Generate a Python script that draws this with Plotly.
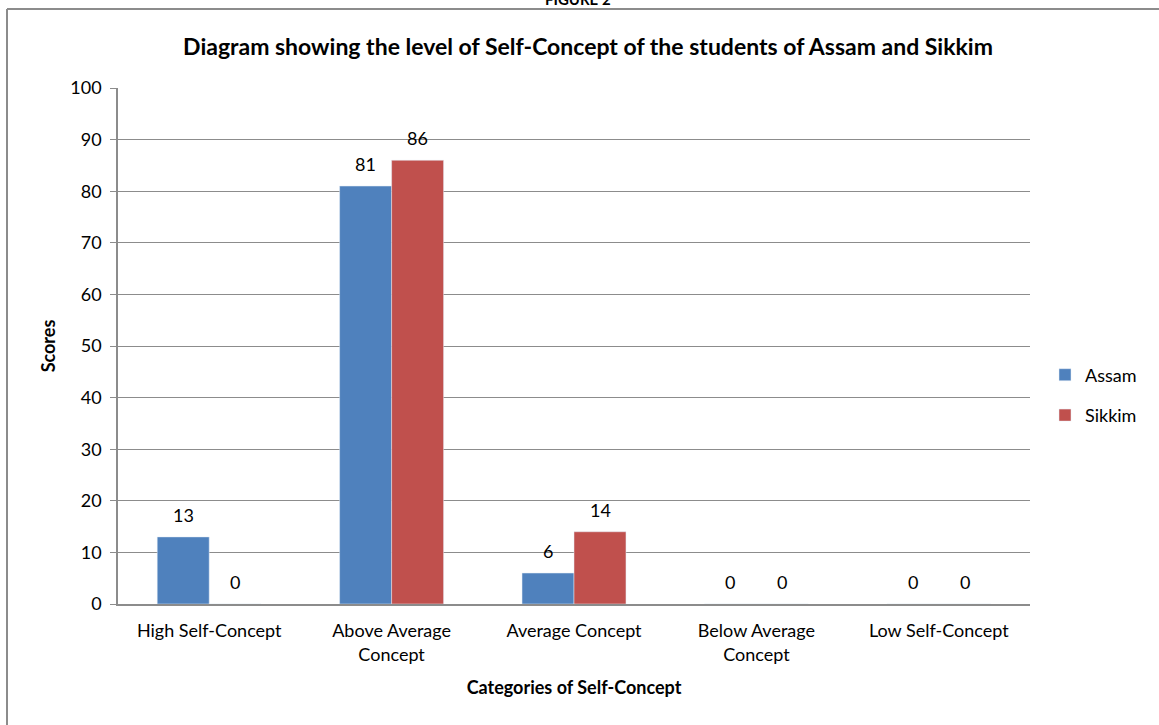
import plotly.graph_objects as go

categories = ["High Self-Concept", "Above Average<br>Concept", "Average Concept",
              "Below Average<br>Concept", "Low Self-Concept"]
assam = [13, 81, 6, 0, 0]
sikkim = [0, 86, 14, 0, 0]
y_ticks = list(range(0, 101, 10))

FONT = "Lato"
BLUE = "#4F81BD"
RED = "#C0504D"
GRID = "#8C8C8C"

W, H = 1159, 725
L, R, T, B = 118, 129, 88, 121
pw, ph = W - L - R, H - T - B

fig = go.Figure()
fig.add_trace(go.Bar(x=categories, y=assam, name="Assam", marker_color=BLUE,
                     legendgroup="a"))
fig.add_trace(go.Bar(x=categories, y=sikkim, name="Sikkim", marker_color=RED,
                     legendgroup="b"))

annotations = []
for series, shift in ((assam, -26), (sikkim, 26)):
    for c, v in zip(categories, series):
        annotations.append(dict(x=c, y=v, text=str(v), showarrow=False,
                                xshift=shift, yshift=22, yanchor="middle",
                                font=dict(family=FONT, size=18, color="#000")))

# clipped "FIGURE 2" heading at very top (cut off in the reference too)
annotations.append(dict(xref="paper", yref="paper", x=(578 - L) / pw,
                        y=(T + ph - 10) / ph, yanchor="bottom", showarrow=False,
                        text="<b>FIGURE 2</b>",
                        font=dict(family=FONT, size=15, color="#000")))

fig.update_layout(
    width=W, height=H,
    margin=dict(l=L, r=R, t=T, b=B, autoexpand=False),
    paper_bgcolor="white", plot_bgcolor="white",
    barmode="group", bargap=0.43, bargroupgap=0,
    font=dict(family=FONT, size=18, color="#000"),
    title=dict(text="<b>Diagram showing the level of Self-Concept of the students of Assam and Sikkim</b>",
               x=588 / W, xref="container", xanchor="center",
               y=1 - 47 / H, yref="container", yanchor="middle",
               font=dict(family=FONT, size=23, color="#000")),
    xaxis=dict(showgrid=False, showline=True, linecolor=GRID, linewidth=1.5,
               ticks="", tickfont=dict(family=FONT, size=18),
               ticklabelstandoff=10,
               title=dict(text="<b>Categories of Self-Concept</b>", standoff=18,
                          font=dict(family=FONT, size=18))),
    yaxis=dict(range=[0, 100], tickvals=y_ticks, showgrid=True, gridcolor=GRID,
               gridwidth=1, showline=True, linecolor=GRID, linewidth=1.5,
               ticks="outside", ticklen=6, tickcolor=GRID, zeroline=False,
               tickfont=dict(family=FONT, size=18), ticklabelstandoff=5,
               title=dict(text="<b>Scores</b>", standoff=10,
                          font=dict(family=FONT, size=18))),
    legend=dict(xref="container", x=1045 / W, xanchor="left",
                yref="paper", y=(604 - 395) / ph, yanchor="middle",
                tracegroupgap=14, font=dict(family=FONT, size=18),
                itemwidth=30),
    annotations=annotations,
    shapes=[dict(type="line", xref="paper", yref="paper",
                 x0=(7 - L) / pw, x1=(W + 5 - L) / pw,
                 y0=(T + ph - 9) / ph, y1=(T + ph - 9) / ph,
                 line=dict(color="#8C8C8C", width=2)),
            dict(type="line", xref="paper", yref="paper",
                 x0=(7 - L) / pw, x1=(7 - L) / pw,
                 y0=(T + ph - 9) / ph, y1=-(B + 5) / ph,
                 line=dict(color="#8C8C8C", width=2))],
)

fig.write_html("out.html")
